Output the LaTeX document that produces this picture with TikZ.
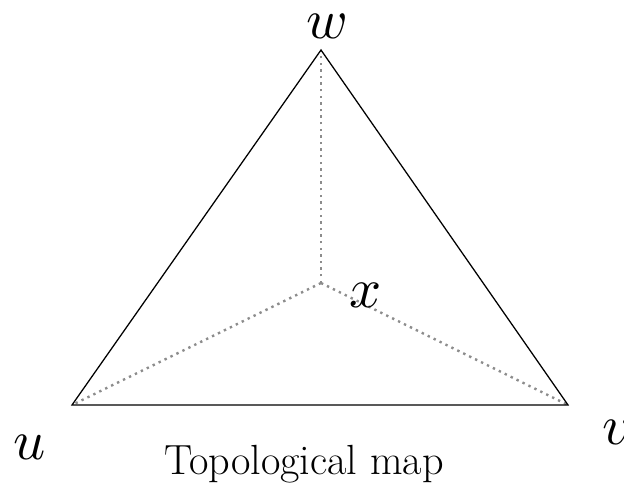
\documentclass[tikz,border=0pt]{standalone}
\usepackage{tikz}
\usetikzlibrary{positioning}
\tikzset{
  edge/.style={line width=0.9pt,black},
  hidden/.style={line width=1.7pt,black!45,dash pattern=on 1.7pt off 3pt},
  vlbl/.style={scale=4,inner sep=0pt},
  captxt/.style={font=\fontsize{30}{30}\selectfont,inner sep=0pt},
}
\begin{document}
\begin{tikzpicture}[x=0.025cm,y=-0.025cm]
  \useasboundingbox (0,0) rectangle (624,484);
  % vertices of the map
  \coordinate (w) at (321,50);
  \coordinate (u) at (72,405);
  \coordinate (v) at (568,405);
  \coordinate (x) at (321,283);
  % hidden edges to the inner vertex
  \draw[hidden] (x) -- (w);
  \draw[hidden] (x) -- (u);
  \draw[hidden] (x) -- (v);
  % outer triangle
  \draw[edge,line join=miter] (u) -- (v) -- (w) -- cycle;
  % labels
  \node[vlbl] (wl) at (327,26) {$w$};
  \node[vlbl] (xl) at (366,295) {$x$};
  \node[vlbl] (ul) at (30,447) {$u$};
  \node[vlbl] (vl) at (617,432) {$v$};
  \node[captxt,anchor=base] (title) at (304,474) {Topological map};
\end{tikzpicture}
\end{document}
